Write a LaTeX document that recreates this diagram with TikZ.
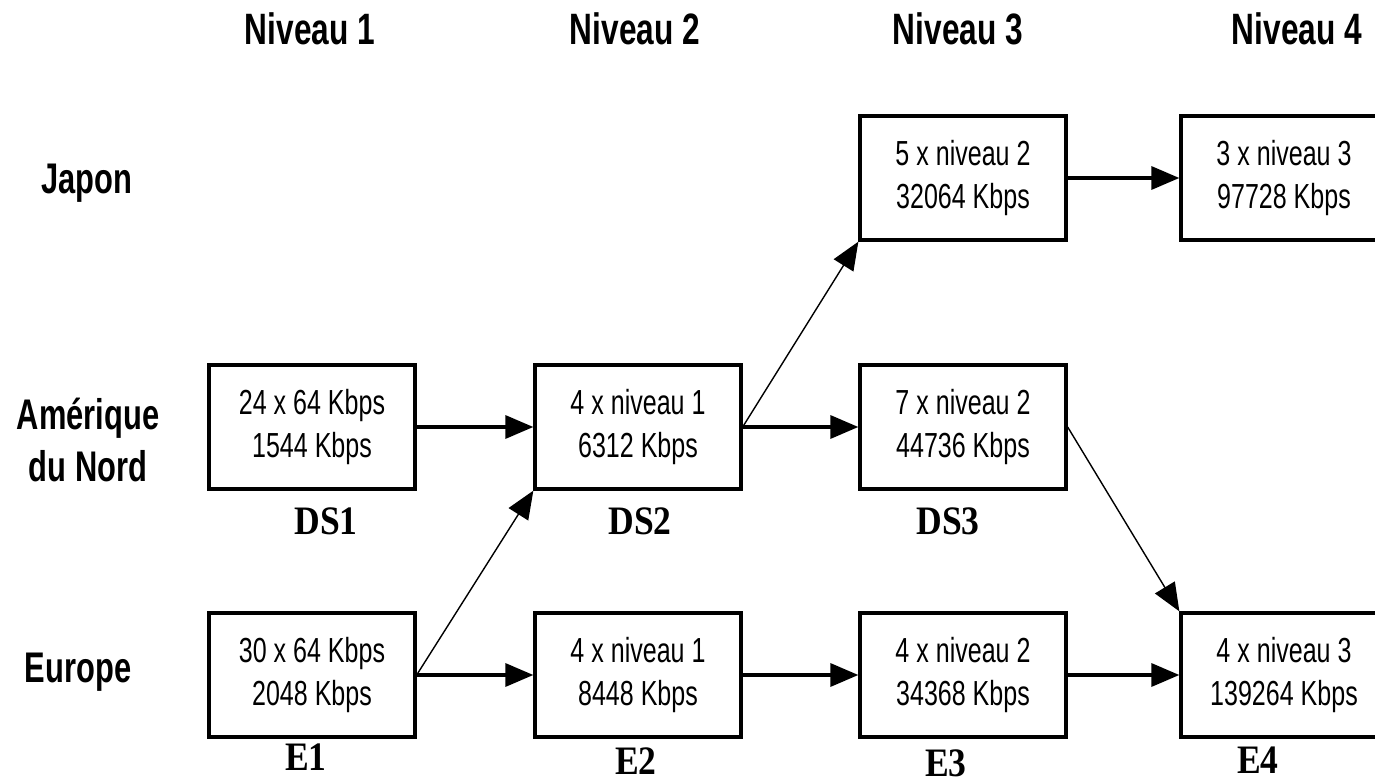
\documentclass[tikz,border=0pt]{standalone}
\usepackage{fontspec}
\setmainfont{Liberation Serif}[FakeStretch=0.88]
\newfontfamily\arialn{Liberation Sans}[FakeStretch=0.72]
\usetikzlibrary{arrows.meta}

\begin{document}
\begin{tikzpicture}[x=0.02cm, y=-0.02cm,
    level/.style={font=\arialn\bfseries\fontsize{25}{30}\selectfont},
    region/.style={font=\arialn\bfseries\fontsize{24.4}{30}\selectfont, align=center},
    rate/.style={draw, line width=1.9pt, minimum width=4.12cm, minimum height=2.48cm,
        align=center, font=\arialn\fontsize{19.8}{24.4}\selectfont},
    tag/.style={font=\bfseries\fontsize{23}{23}\selectfont},
    hop/.style={-{Triangle[length=0.56cm,width=0.46cm]}, line width=1.9pt},
    skip/.style={-{Triangle[length=0.56cm,width=0.46cm]}, line width=0.8pt}]
    \useasboundingbox (0,0) rectangle (1375,783);
    \clip (0,0) rectangle (1375,783);

    % levels and regions
    \node[level] (lvl1) at (310,29) {Niveau 1};
    \node[level] (lvl2) at (635,29) {Niveau 2};
    \node[level] (lvl3) at (958,29) {Niveau 3};
    \node[level] (lvl4) at (1297,29) {Niveau 4};
    \node[region] (jp) at (87,183) {Japon};
    \node[region] (na) at (88,440) {Amérique\\du Nord};
    \node[region] (eu) at (78,672) {Europe};

    % hierarchy boxes
    \node[rate] (jp3) at (963,178) {5 x niveau 2\\32064 Kbps};
    \node[rate] (jp4) at (1284,178) {3 x niveau 3\\97728 Kbps};
    \node[rate] (ds1) at (312,427) {24 x 64 Kbps\\1544 Kbps};
    \node[rate] (ds2) at (638,427) {4 x niveau 1\\6312 Kbps};
    \node[rate] (ds3) at (963,427) {7 x niveau 2\\44736 Kbps};
    \node[rate] (e1) at (312,675) {30 x 64 Kbps\\2048 Kbps};
    \node[rate] (e2) at (638,675) {4 x niveau 1\\8448 Kbps};
    \node[rate] (e3) at (963,675) {4 x niveau 2\\34368 Kbps};
    \node[rate] (e4) at (1284,675) {4 x niveau 3\\139264 Kbps};

    \node[tag] (ds1tag) at (326,521) {DS1};
    \node[tag] (ds2tag) at (640,521) {DS2};
    \node[tag] (ds3tag) at (948,521) {DS3};
    \node[tag] (e1tag) at (306,757) {E1};
    \node[tag] (e2tag) at (636,761) {E2};
    \node[tag] (e3tag) at (946,763) {E3};
    \node[tag] (e4tag) at (1258,760) {E4};

    \draw[hop] (jp3) -- (jp4);
    \draw[hop] (ds1) -- (ds2);
    \draw[hop] (ds2) -- (ds3);
    \draw[hop] (e1) -- (e2);
    \draw[hop] (e2) -- (e3);
    \draw[hop] (e3) -- (e4);
    \draw[skip] (e1.east) -- (ds2.south west);
    \draw[skip] (ds2.east) -- (jp3.south west);
    \draw[skip] (ds3.east) -- (e4.north west);
\end{tikzpicture}
\end{document}
